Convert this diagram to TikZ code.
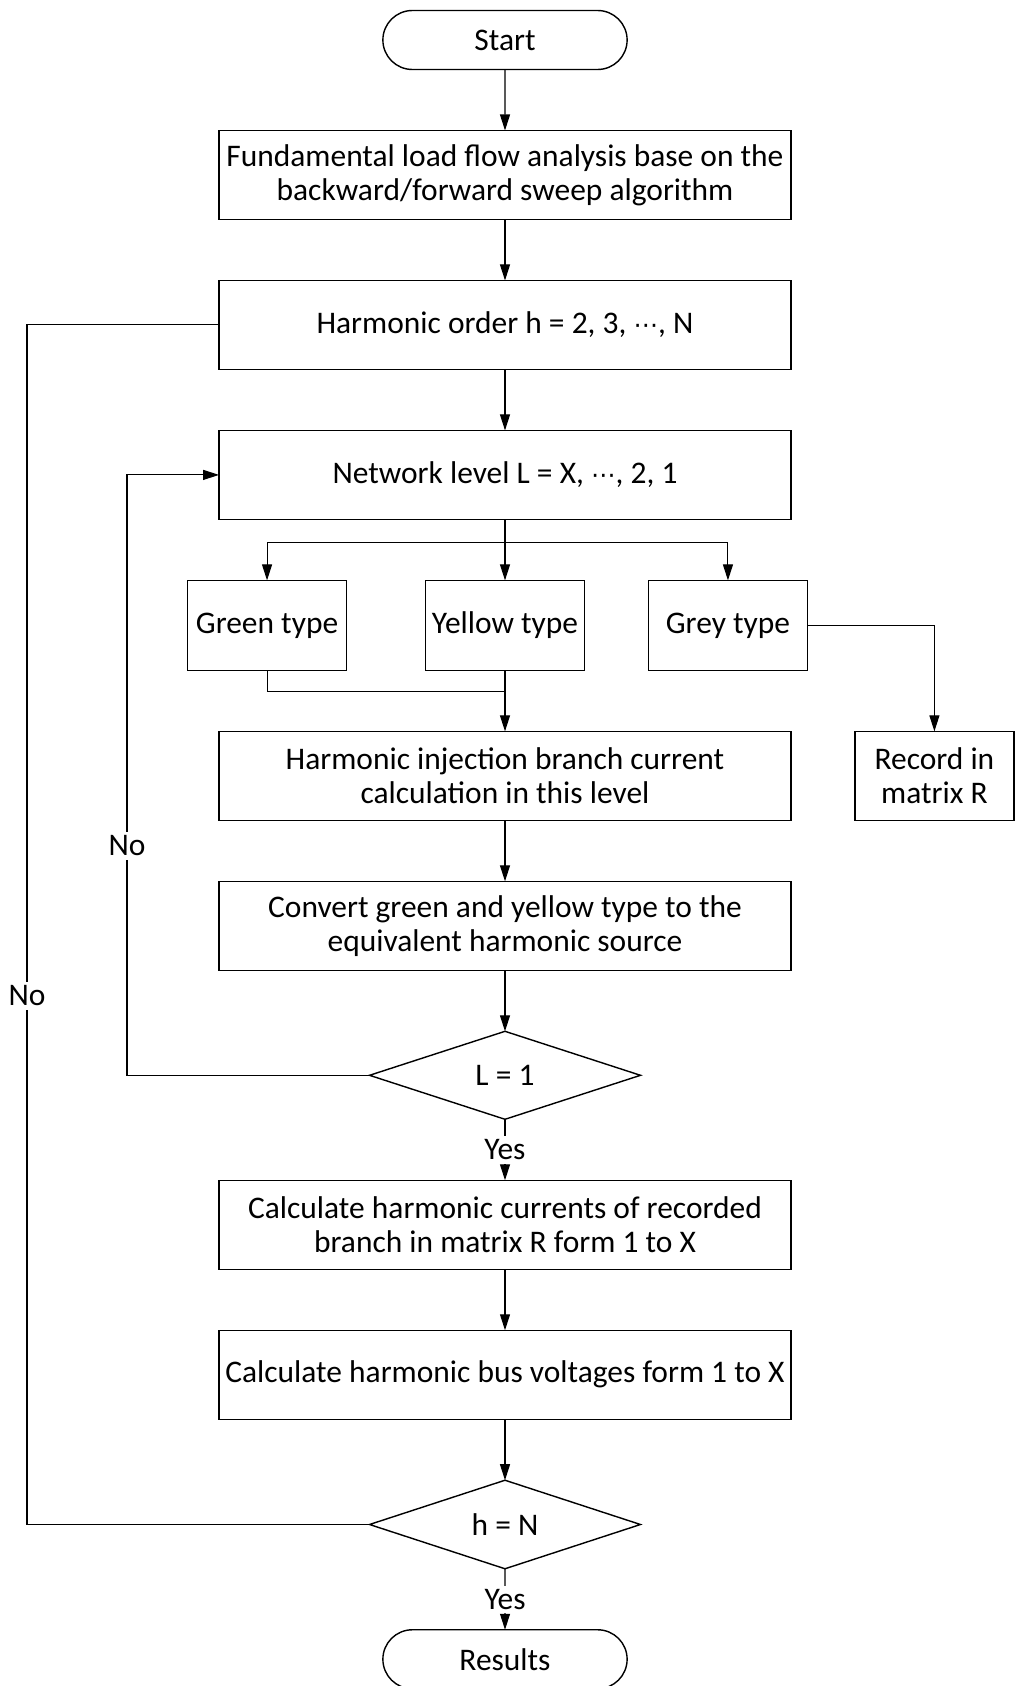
\documentclass[tikz,border=0pt]{standalone}
\usepackage{fontspec}
\setmainfont{Carlito}
\newfontfamily\dotsfont{DejaVu Sans}
\usepackage{tikz}
\usetikzlibrary{arrows.meta, calc, positioning, shapes.geometric, shapes.misc}

\newcommand{\midellipsis}{{\dotsfont\fontsize{14}{14}\selectfont ⋯}}

\begin{document}
\begin{tikzpicture}[
            x = 0.02cm, y = -0.02cm, % one unit per pixel, y downwards
            > = {Triangle[length=0.32cm, width=0.2cm]}, % arrow head style
            node distance = 1.22cm, % gap between boxes
            line width = 0.6pt,
            font = \fontsize{17.9}{19.5}\selectfont
        ]

        \tikzstyle{process}=[
            draw = black,
            line width = 0.8pt,
            outer sep = 0pt,
            rectangle,
            align = center,
            minimum width = 11.44cm,
            minimum height = 1.78cm
        ]
        \tikzstyle{kind}=[process, minimum width = 3.18cm, minimum height = 1.8cm]
        \tikzstyle{decision}=[
            draw = black,
            line width = 0.8pt,
            outer sep = 0pt,
            diamond,
            inner sep = 0pt,
            minimum width = 5.42cm,
            minimum height = 1.76cm
        ]
        \tikzstyle{terminal}=[
            draw = black,
            line width = 0.8pt,
            outer sep = 0pt,
            rounded rectangle,
            minimum width = 5.12cm,
            minimum height = 1.18cm
        ]
        \tikzstyle{label}=[fill = white, inner sep = 2pt]

        \useasboundingbox (0,0) rectangle (1014,1686);

        % main column
        \node[terminal] (start) at (505,40) {Start};
        \node[process] (fund) [below=of start] {Fundamental load flow analysis base on the\\backward/forward sweep algorithm};
        \node[process] (order) [below=of fund] {Harmonic order h = 2, 3, \midellipsis, N};
        \node[process] (level) [below=of order] {Network level L = X, \midellipsis, 2, 1};
        \node[kind] (yellow) [below=of level] {Yellow type};
        \node[kind] (green) [left=1.58cm of yellow] {Green type};
        \node[kind] (grey) [right=1.28cm of yellow] {Grey type};
        \node[process] (inject) [below=of yellow] {Harmonic injection branch current\\calculation in this level};
        \node[kind] (record) [right=1.28cm of inject, minimum height = 1.78cm] {Record in\\matrix R};
        \node[process] (convert) [below=of inject] {Convert green and yellow type to the\\equivalent harmonic source};
        \node[decision] (lone) [below=of convert] {L = 1};
        \node[process] (currents) [below=of lone] {Calculate harmonic currents of recorded\\branch in matrix R form 1 to X};
        \node[process] (bus) [below=of currents] {Calculate harmonic bus voltages form 1 to X};
        \node[decision] (hlast) [below=of bus] {h = N};
        \node[terminal] (results) [below=of hlast] {Results};

        \coordinate (split) at ($(level.south)!0.38!(yellow.north)$);
        \coordinate (join) at ($(yellow.south)!0.35!(inject.north)$);
        \coordinate (outer) at (27,0);
        \coordinate (inner) at (127,0);

        \draw[->] (start) -- (fund);
        \draw[->] (fund) -- (order);
        \draw[->] (order) -- (level);
        \draw[->] (level) -- (yellow);
        \draw[->] (split) -| (green.north);
        \draw[->] (split) -| (grey.north);
        \draw (green.south) |- (join);
        \draw[->] (yellow) -- (inject);
        \draw[->] (grey.east) -| (record.north);
        \draw[->] (inject) -- (convert);
        \draw[->] (convert) -- (lone);
        \draw[->] (lone) -- node[label] {Yes} (currents);
        \draw[->] (currents) -- (bus);
        \draw[->] (bus) -- (hlast);
        \draw[->] (hlast) -- node[label] {Yes} (results);

        % loops back on "No"
        \draw[->] (lone.west) -- (lone.west -| inner) |- (level.west);
        \draw (hlast.west) -- (hlast.west -| outer) |- (order.west);
        \node[label] (noinner) at (127,846) {No};
        \node[label] (noouter) at (27,996) {No};

  \end{tikzpicture}
\end{document}
